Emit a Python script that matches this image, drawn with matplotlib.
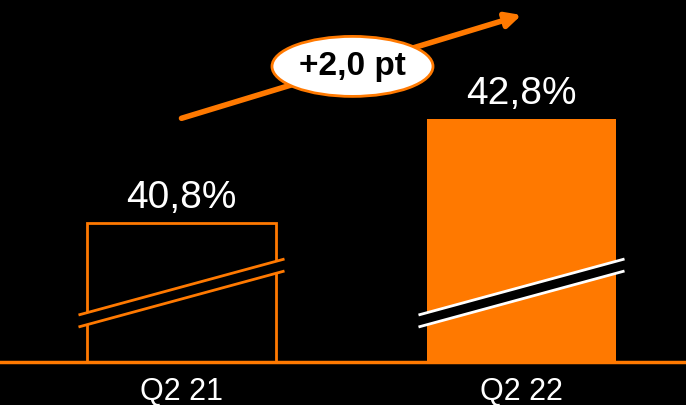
import matplotlib
matplotlib.use("Agg")
import matplotlib.pyplot as plt
from matplotlib.patches import Ellipse, Polygon

plt.rcParams["font.family"] = ["Liberation Sans", "DejaVu Sans"]

# --- data -------------------------------------------------------------------
categories = ["Q2 21", "Q2 22"]
values = [40.8, 42.8]
value_labels = ["40,8%", "42,8%"]
delta_label = "+2,0 pt"

ORANGE = "#ff7900"
W, H, DPI = 686, 405, 100

# broken axis: baseline value chosen so bar heights match the picture
y0 = 38.11
px_per_y = 51.85           # pixels per percentage point
px_per_x = 340.0           # pixels between bar centres
base_px = 362              # baseline pixel row from top

fig = plt.figure(figsize=(W / DPI, H / DPI), dpi=DPI, facecolor="black")
ax = fig.add_axes([0, (H - base_px) / H, 1, base_px / H])
ax.set_facecolor("black")
ax.set_xlim(-181.5 / px_per_x, 1 + (W - 521.5) / px_per_x)
ax.set_ylim(y0, y0 + base_px / px_per_y)
ax.axis("off")

xs = [0, 1]
bw = 189 / px_per_x
heights = [v - y0 for v in values]
ax.bar(xs[0], heights[0], bw, bottom=y0, facecolor="black",
       edgecolor=ORANGE, linewidth=2, zorder=2)
ax.bar(xs[1], heights[1], bw, bottom=y0, facecolor=ORANGE,
       edgecolor=ORANGE, linewidth=0, zorder=2)

# baseline
ax.axhline(y0, color=ORANGE, lw=2.5, zorder=3, clip_on=False)

# break marks (same height on both bars)
half = 103 / px_per_x
yb = y0 + 69 / px_per_y
rise = 56 / px_per_y / 2
gap = 12 / px_per_y / 2
for x, edge in zip(xs, [ORANGE, "white"]):
    xa, xb = x - half, x + half
    ya, yb2 = yb - rise, yb + rise
    ax.add_patch(Polygon([(xa, ya + gap), (xb, yb2 + gap), (xb, yb2 - gap), (xa, ya - gap)],
                         closed=True, facecolor="black", edgecolor="none", zorder=4))
    for s in (gap, -gap):
        ax.plot([xa, xb], [ya + s, yb2 + s], color=edge, lw=2, zorder=5,
                solid_capstyle="butt")

# value labels
for x, v, lab in zip(xs, values, value_labels):
    ax.annotate(lab, (x, v), xytext=(0, 10.5), textcoords="offset points",
                ha="center", va="baseline", color="white", fontsize=28)

# category labels
for x, c in zip(xs, categories):
    ax.annotate(c, (x, y0), xytext=(0, -27), textcoords="offset points",
                ha="center", va="baseline", color="white", fontsize=22,
                annotation_clip=False)

# trend arrow
ya0 = y0 + (base_px - 118.3) / px_per_y
ya1 = y0 + (base_px - 15) / px_per_y
ax.annotate("", xy=(1, ya1), xytext=(0, ya0),
            arrowprops=dict(arrowstyle="-|>,head_length=0.9,head_width=0.45",
                            color=ORANGE, lw=4, shrinkA=0, shrinkB=0),
            zorder=6)

# delta bubble
cx = (352.5 - 181.5) / px_per_x
cy = y0 + (base_px - 66.4) / px_per_y
ax.add_patch(Ellipse((cx, cy), 161 / px_per_x, 60 / px_per_y, facecolor="white",
                     edgecolor=ORANGE, lw=2, zorder=7))
ax.text(cx, cy, delta_label, ha="center", va="center", fontsize=24,
        fontweight="bold", color="black", zorder=8)

fig.savefig("out.png", dpi=DPI, facecolor="black")
